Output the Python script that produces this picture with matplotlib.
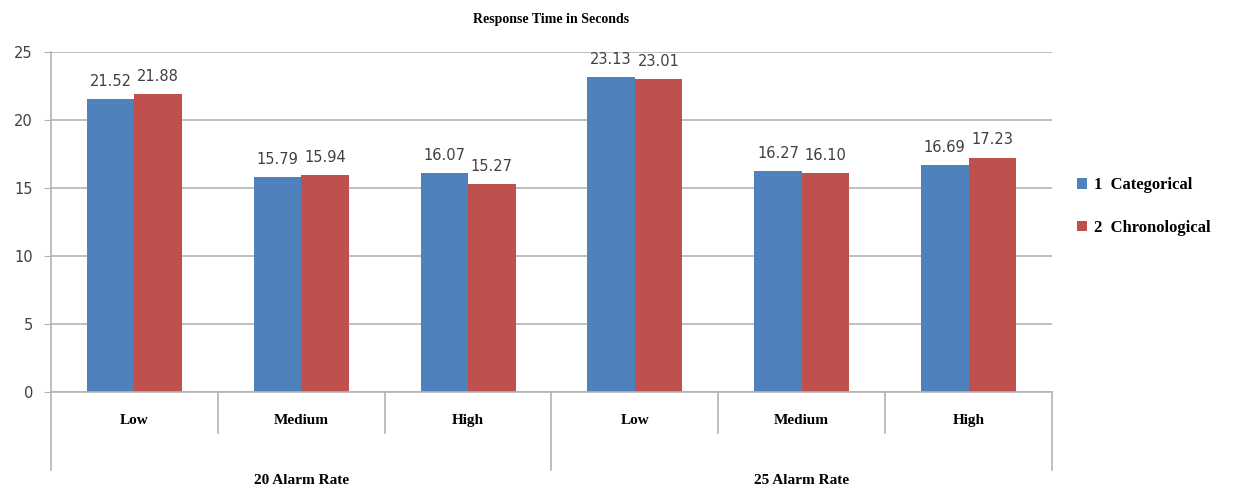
import numpy as np
import matplotlib.pyplot as plt
import matplotlib.transforms as mtransforms

# Response time data (seconds)
levels = ["Low", "Medium", "High", "Low", "Medium", "High"]
groups = ["20 Alarm Rate", "25 Alarm Rate"]
categorical = [21.52, 15.79, 16.07, 23.13, 16.27, 16.69]
chronological = [21.88, 15.94, 15.27, 23.01, 16.10, 17.23]
series_names = ["1  Categorical", "2  Chronological"]

blue = "#4F81BD"
red = "#C0504D"
grid_col = "#b3b3b3"
serif = "Liberation Serif"

fig = plt.figure(figsize=(12.34, 4.98), dpi=100)
ax = fig.add_axes([0.0413, 0.2129, 0.8112, 0.6827])

x = np.arange(len(levels))
w = 0.285
b1 = ax.bar(x - w / 2, categorical, w, color=blue, label=series_names[0])
b2 = ax.bar(x + w / 2, chronological, w, color=red, label=series_names[1])

for bars, vals in [(b1, categorical), (b2, chronological)]:
    for r, v in zip(bars, vals):
        ax.text(r.get_x() + r.get_width() / 2, v + 0.75, "%.2f" % v,
                ha="center", va="bottom", fontsize=10.5, color="#404040")

ax.set_xlim(-0.5, len(levels) - 0.5)
ax.set_ylim(0, 25)
ax.set_yticks([0, 5, 10, 15, 20, 25])
ax.yaxis.grid(True, color=grid_col, linewidth=1.2)
ax.set_axisbelow(True)
ax.tick_params(axis="y", length=5, color=grid_col, labelsize=10.5,
               labelcolor="#404040", pad=8)

ax.set_xticks(x)
ax.set_xticklabels(levels, fontfamily=serif, fontweight="bold", fontsize=11)
ax.tick_params(axis="x", length=0, pad=16)

for s in ["top", "right"]:
    ax.spines[s].set_visible(False)
ax.spines["left"].set_color(grid_col)
ax.spines["bottom"].set_color(grid_col)
ax.spines["left"].set_linewidth(1.2)
ax.spines["bottom"].set_linewidth(1.2)

# Category dividers below the axis
trans = mtransforms.blended_transform_factory(ax.transData, ax.transAxes)
for i in range(len(levels) + 1):
    edge = i - 0.5
    long_line = i % 3 == 0
    ax.plot([edge, edge], [0, -0.23 if long_line else -0.12], transform=trans,
            color=grid_col, linewidth=1.2, clip_on=False)

for gi, g in enumerate(groups):
    ax.text(gi * 3 + 1, -0.26, g, transform=trans, ha="center", va="center",
            fontfamily=serif, fontweight="bold", fontsize=11)

ax.set_title("Response Time in Seconds", fontfamily=serif, fontweight="bold",
             fontsize=10, pad=21)

leg = ax.legend(loc="center left", bbox_to_anchor=(1.01, 0.545), frameon=False,
                handlelength=0.6, handleheight=0.6, handletextpad=0.4,
                labelspacing=1.6, prop={"family": serif, "weight": "bold", "size": 12})

fig.savefig("out.png", dpi=100)
